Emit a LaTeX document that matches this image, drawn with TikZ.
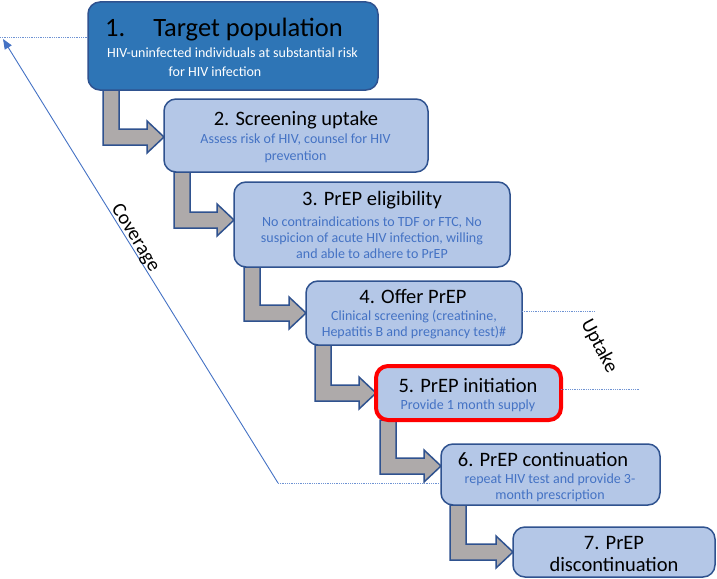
\documentclass[tikz,border=0pt]{standalone}
\usepackage{fontspec}
\setmainfont{Carlito}
\usetikzlibrary{calc,backgrounds,arrows.meta}
\definecolor{dkblue}{HTML}{2E75B6}
\definecolor{ltblue}{HTML}{B4C7E7}
\definecolor{bord}{HTML}{2F528F}
\definecolor{subc}{HTML}{4472C4}
\definecolor{dotc}{HTML}{6F93D3}
\definecolor{arrg}{HTML}{AEAAAA}
\newcommand\elbowarrow[4]{%
  \draw[arrowbox] let \p1=($(#1.south west)+(#3,0)$), \p2=($(#2.west)+(0,#4)$) in
   (\x1,\y1) -- (\x1+16pt,\y1) -- (\x1+16pt,\y2+8pt) -- (\x2-17pt,\y2+8pt)
   -- (\x2-17pt,\y2+16pt) -- (\x2,\y2) -- (\x2-17pt,\y2-16pt) -- (\x2-17pt,\y2-8pt)
   -- (\x1,\y2-8pt) -- cycle;}
\begin{document}
\begin{tikzpicture}[x=1pt,y=-1pt,
  box/.style={draw=bord, line width=1.5pt, fill=ltblue, rounded corners=12pt,
    inner sep=0pt, outer sep=0pt},
  arrowbox/.style={draw=bord, line width=1.5pt, fill=arrg, line join=miter},
  ttl/.style={inner sep=0pt, font=\fontsize{20.5}{23}\selectfont, text=black, align=center},
  sub/.style={inner sep=0pt, font=\fontsize{14}{16}\selectfont, text=subc, align=center},
  guide/.style={draw=dotc, line width=0.8pt, dash pattern=on 1pt off 0.8pt},
  lbl/.style={inner sep=0pt, font=\fontsize{20}{24}\selectfont, text=black}]
\useasboundingbox (0,0) rectangle (717,578);
% boxes
\node[box, fill=dkblue, minimum width=290pt, minimum height=88pt] (b1) at (233,46) {};
\node[box, minimum width=264pt, minimum height=73pt] (b2) at (296,135.5) {};
\node[box, minimum width=276pt, minimum height=85pt] (b3) at (372,224.5) {};
\node[box, minimum width=216pt, minimum height=64pt] (b4) at (414,313) {};
\node[box, draw=red, line width=4pt, minimum width=185pt, minimum height=54pt] (b5) at (468.5,393) {};
\node[box, minimum width=219pt, minimum height=61pt] (b6) at (550.5,474.5) {};
\node[box, minimum width=202pt, minimum height=50pt] (b7) at (614,552) {};
% texts
\node[inner sep=0pt, anchor=west, font=\fontsize{26.5}{30}\selectfont] (t1) at (105,30) {1.\hspace{28pt}Target population};
\node[sub, text=white] (s1a) at (232.5,53) {HIV-uninfected individuals at substantial risk};
\node[sub, text=white] (s1b) at (215,72) {for HIV infection};
\node[ttl] (t2) at (296,120) {2. Screening uptake};
\node[sub, font=\fontsize{14}{17}\selectfont] (s2) at (295.5,148.5) {Assess risk of HIV, counsel for HIV\\prevention};
\node[ttl] (t3) at (372,200) {3. PrEP eligibility};
\node[sub] (s3) at (372,238) {No contraindications to TDF or FTC, No\\suspicion of acute HIV infection, willing\\and able to adhere to PrEP};
\node[ttl] (t4) at (413,296) {4. Offer PrEP};
\node[sub] (s4) at (414,325) {Clinical screening (creatinine,\\Hepatitis B and pregnancy test)\#};
\node[ttl] (t5) at (468,385) {5. PrEP initiation};
\node[sub] (s5) at (468,406) {Provide 1 month supply};
\node[ttl] (t6) at (543,459) {6. PrEP continuation};
\node[sub] (s6) at (550,488) {repeat HIV test and provide 3-\\month prescription};
\node[ttl, font=\fontsize{20.5}{22}\selectfont] (t7) at (614,554) {7. PrEP\\discontinuation};
% elbow arrows
\begin{scope}[on background layer]
\elbowarrow{b1}{b2}{15}{1.5}
\elbowarrow{b2}{b3}{10}{-4.5}
\elbowarrow{b3}{b4}{10}{0}
\elbowarrow{b4}{b5}{9}{0}
\elbowarrow{b5}{b6}{4}{-8.5}
\elbowarrow{b6}{b7}{9}{0}
\end{scope}
% coverage
\coordinate (cbot) at (278,483);
\coordinate (ctop) at (0,37);
\coordinate (ctip) at (3,39);
\draw[guide] (cbot) -- (cbot -| b6.west);
\draw[guide] (ctop) -- (ctop -| b1.west);
\draw[draw=subc, line width=0.9pt, -{Triangle[length=10pt,width=8pt]}] (cbot) -- (ctip);
\node[lbl, rotate=-58.3] (cov) at (135,238) {Coverage};
% uptake
\coordinate (u1) at (595,311);
\coordinate (u2) at (640,389);
\draw[guide] (b4.east |- u1) -- (u1);
\draw[guide] (b5.east |- u2) -- (u2);
\node[lbl, rotate=-62] (upt) at (599,346) {Uptake};
\end{tikzpicture}
\end{document}
